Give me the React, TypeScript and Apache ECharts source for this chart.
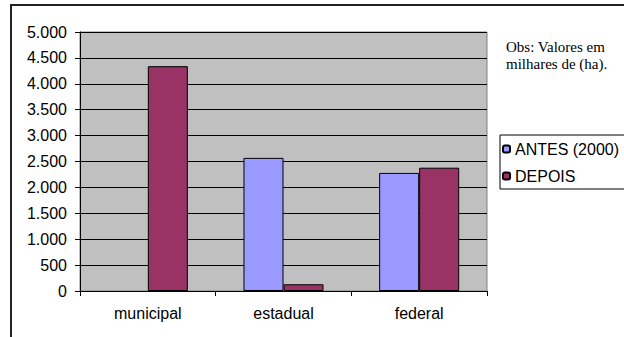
import React, { useEffect, useRef } from "react";
import * as echarts from "echarts";

const categories = ["municipal", "estadual", "federal"];
const antes: (number | string)[] = ["-", 2570, 2280];
const depois: number[] = [4340, 130, 2380];
const seriesNames = ["ANTES (2000)", "DEPOIS"];
const obsLines = ["Obs: Valores em", "milhares de (ha)."];

const fmt = (v: number) => String(v).replace(/\B(?=(\d{3})+(?!\d))/g, ".");

export default function App() {
  const ref = useRef<HTMLDivElement>(null);
  useEffect(() => {
    if (!ref.current) return;
    const chart = echarts.init(ref.current, null, { renderer: "svg" });
    chart.setOption({
      animation: false,
      backgroundColor: "#ffffff",
      grid: {
        left: 80,
        right: 137,
        top: 32,
        bottom: 46,
        show: true,
        backgroundColor: "#C0C0C0",
        borderColor: "#808080",
        borderWidth: 1,
      },
      legend: {
        orient: "vertical",
        left: 502,
        top: 141,
        padding: 0,
        itemWidth: 7,
        itemHeight: 7,
        itemGap: 11,
        textStyle: { fontFamily: "Liberation Sans", fontSize: 16, color: "#000" },
        data: seriesNames,
      },
      xAxis: {
        type: "category",
        data: categories,
        axisLine: { lineStyle: { color: "#000", width: 1 } },
        axisTick: { show: true, length: 5, lineStyle: { color: "#000" } },
        axisLabel: { fontFamily: "Liberation Sans", fontSize: 16, color: "#000", margin: 14 },
      },
      yAxis: {
        type: "value",
        min: 0,
        max: 5000,
        interval: 500,
        axisLine: { show: true, lineStyle: { color: "#000", width: 1 } },
        axisTick: { show: true, length: 5, lineStyle: { color: "#000" } },
        splitLine: { show: true, lineStyle: { color: "#000", width: 1 } },
        axisLabel: {
          fontFamily: "Liberation Sans",
          fontSize: 16,
          color: "#000",
          margin: 13,
          formatter: (v: number) => fmt(v),
        },
      },
      series: [
        {
          name: seriesNames[0],
          type: "bar",
          data: antes,
          barGap: "0%",
          barCategoryGap: "41%",
          itemStyle: { color: "#9999FF", borderColor: "#000", borderWidth: 1 },
        },
        {
          name: seriesNames[1],
          type: "bar",
          data: depois,
          barGap: "0%",
          barCategoryGap: "41%",
          itemStyle: { color: "#993366", borderColor: "#000", borderWidth: 1 },
        },
      ],
      graphic: [
        {
          type: "rect",
          shape: { x: 11, y: 5, width: 700, height: 400 },
          style: { fill: "none", stroke: "#222", lineWidth: 2 },
          silent: true,
        },
        {
          type: "rect",
          shape: { x: 500, y: 135, width: 200, height: 54 },
          style: { fill: "none", stroke: "#000", lineWidth: 1 },
          silent: true,
        },
        {
          type: "text",
          left: 506,
          top: 38,
          style: {
            text: obsLines.join("\n"),
            font: "15px 'Liberation Serif'",
            lineHeight: 17,
            fill: "#000",
          },
        },
      ],
    });
    return () => chart.dispose();
  }, []);
  return (
    <div
      ref={ref}
      style={{ position: "absolute", left: 0, top: 0, width: 624, height: 337 }}
    />
  );
}
